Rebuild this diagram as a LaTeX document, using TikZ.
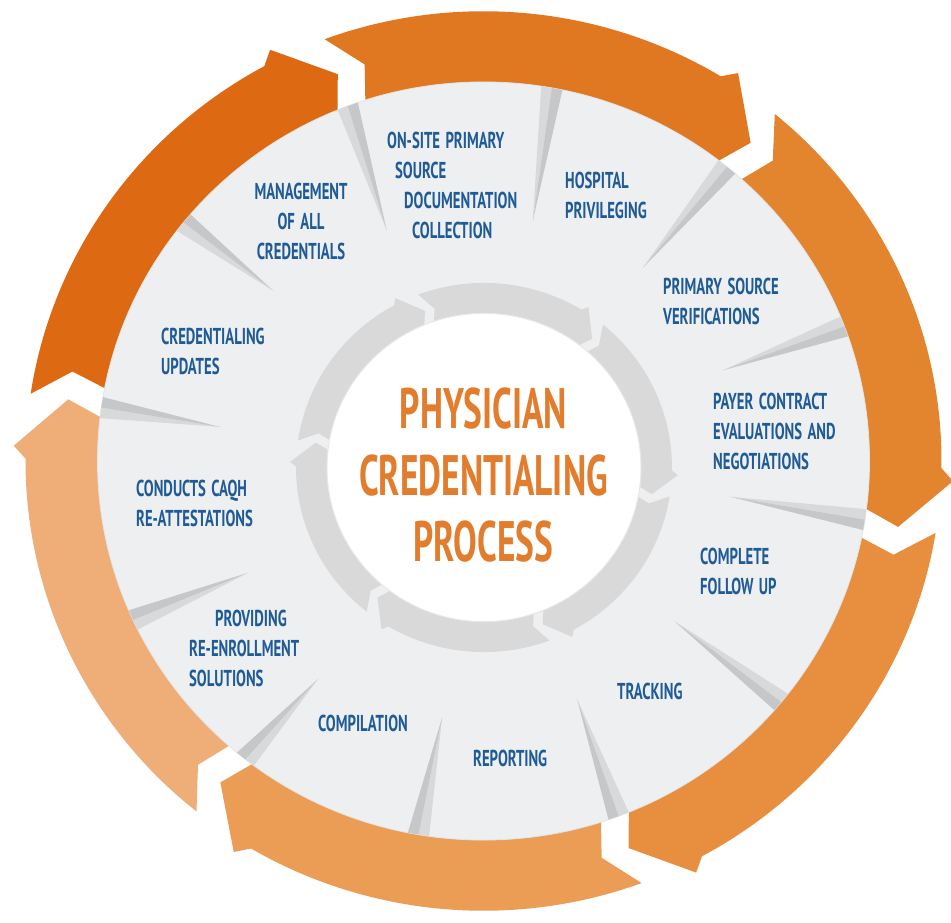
\documentclass[tikz,border=0pt]{standalone}
\usepackage{fontspec}
\newfontfamily\lblfont{PT Sans}[FakeStretch=0.64]
\newfontfamily\ttlfont{PT Sans}[FakeStretch=0.62]
\newcommand\lblsetup{\lblfont\bfseries\fontsize{23}{30}\selectfont\spaceskip=5.5pt\relax}
\newcommand\ttlsetup{\ttlfont\bfseries\fontsize{57}{66.5}\selectfont}
\definecolor{lblblue}{HTML}{1F5B97}
\definecolor{ttlorange}{HTML}{E27D2E}
\definecolor{diskgray}{HTML}{EEEFF0}
\definecolor{ringgray}{HTML}{D9D9D9}
\definecolor{wedgeA}{HTML}{D8D9DA}
\definecolor{wedgeB}{HTML}{C6C7C8}
\definecolor{orA}{HTML}{DD6A12}
\definecolor{orB}{HTML}{E07822}
\definecolor{orC}{HTML}{E3852F}
\definecolor{orD}{HTML}{E78F3F}
\definecolor{orE}{HTML}{EB9C55}
\definecolor{orF}{HTML}{EFAD78}
\newcommand\outerarrow[3]{\fill[#3] ({#1-0.3}:458pt) arc[start angle={#1-0.3}, end angle={#2+8}, radius=458pt] -- ({#2+6.4}:470pt) -- ({#2-0.3}:420pt) -- ({#2+2}:380pt) arc[start angle={#2+2}, end angle={#1-2.5}, radius=380pt] -- ({#1-4.2}:421pt) -- cycle;}
\newcommand\innerarrow[2]{\fill[ringgray] ({#1-0.1}:188pt) arc[start angle={#1-0.1}, end angle={#2+8}, radius=188pt] -- ({#2+6.6}:194pt) -- ({#2-0.3}:170pt) -- ({#2+3}:150pt) arc[start angle={#2+3}, end angle={#1-1}, radius=150pt] -- ({#1-3.6}:169pt) -- cycle;}
\begin{document}
\begin{tikzpicture}[x=1pt,y=1pt,
  lbl/.style={font=\lblsetup, text=lblblue, inner sep=0pt, align=left, anchor=north west},
  ttl/.style={font=\ttlsetup, text=ttlorange, inner sep=0pt, align=center, anchor=north}]
\useasboundingbox (-485,-461) rectangle (466,462);
\fill[white] (-485,-461) rectangle (466,462);
\begin{scope}[shift={(-1.5,1)}, yscale=0.982]
  \outerarrow{171.7}{110.6}{orA}
  \outerarrow{110.6}{50.8}{orB}
  \outerarrow{50.8}{-8.9}{orC}
  \outerarrow{-8.9}{-69.5}{orD}
  \outerarrow{-69.5}{-128.5}{orE}
  \outerarrow{231.5}{171.7}{orF}
  \fill[diskgray, draw=gray!22, line width=0.8pt] (0,0) circle[radius=386pt];
  \foreach \b/\t/\r in {110.6/112.4/253.6, 79.8/78.6/249.6, 50.9/51.0/253.5, 20.8/21.1/256.7, -8.9/-8.4/249.2, -39.5/-40.5/251.8, -69.5/-68.9/260, -99.7/-99.0/264.2, -128.1/-126.7/277, 204.8/205.8/261.5, 171.9/172.5/265.7, 141.0/140.5/272.8}{
    \fill[wedgeA] ({\b+1.6}:386pt) -- ({\b}:386pt) -- ({\t}:\r pt) -- cycle;
    \fill[wedgeB] ({\b}:386pt) -- ({\b-1.6}:386pt) -- ({\t}:\r pt) -- cycle;
  }
\end{scope}
\begin{scope}[shift={(-1,-5.5)}, yscale=0.982]
  \innerarrow{171.7}{110.6}
  \innerarrow{110.6}{50.8}
  \innerarrow{50.8}{-8.9}
  \innerarrow{-8.9}{-69.5}
  \innerarrow{-69.5}{-128.5}
  \innerarrow{231.5}{171.7}
  \fill[white, draw=gray!18, line width=1pt] (0,0) circle[radius=157pt];
\end{scope}
\node[ttl] (title) at (-1.5,74) {PHYSICIAN\\CREDENTIALING\\PROCESS};
\node[lbl] (onsite) at (-98,330) {ON-SITE PRIMARY\\ \kern8pt SOURCE\\ \kern17pt DOCUMENTATION\\ \kern25pt COLLECTION};
\node[lbl] (hosp) at (80,290) {HOSPITAL\\PRIVILEGING};
\node[lbl] (psv) at (178,184) {PRIMARY SOURCE\\VERIFICATIONS};
\node[lbl] (payer) at (228,69) {PAYER CONTRACT\\EVALUATIONS AND\\NEGOTIATIONS};
\node[lbl] (follow) at (215,-86) {COMPLETE\\FOLLOW UP};
\node[lbl] (track) at (132,-221) {TRACKING};
\node[lbl] (report) at (-12,-288) {REPORTING};
\node[lbl] (compil) at (-167,-253) {COMPILATION};
\node[lbl] (reenrol) at (-296,-148) {\kern26pt PROVIDING\\RE-ENROLLMENT\\SOLUTIONS};
\node[lbl] (caqh) at (-349,-18) {CONDUCTS CAQH\\RE-ATTESTATIONS};
\node[lbl] (updates) at (-324,134) {CREDENTIALING\\UPDATES};
\node[lbl, align=center, anchor=north] (manage) at (-184,279) {MANAGEMENT\\OF ALL\\CREDENTIALS};
\end{tikzpicture}
\end{document}
